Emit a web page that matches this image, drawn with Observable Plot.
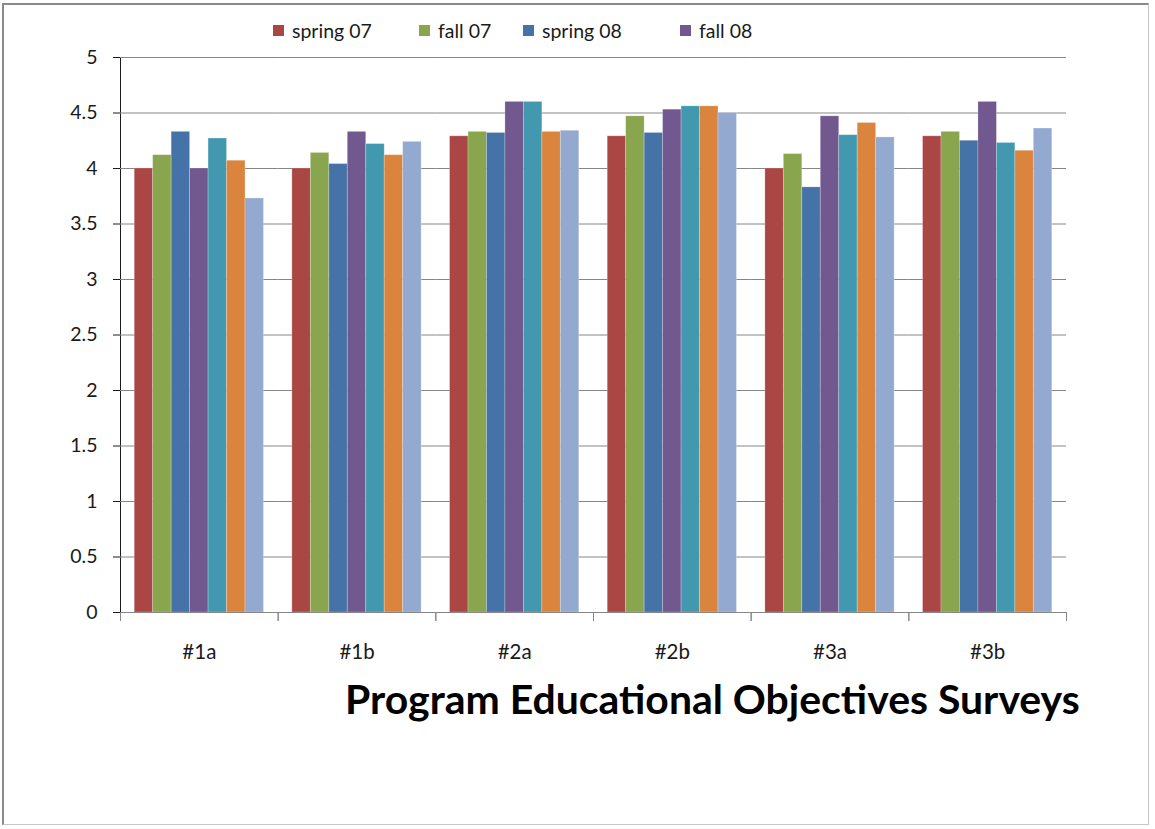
<!DOCTYPE html>
<html><head><meta charset="utf-8">
<script src="https://cdn.jsdelivr.net/npm/d3@7"></script>
<script src="https://cdn.jsdelivr.net/npm/@observablehq/plot@0.6"></script>
<style>
body{margin:0;background:#fff;}
#wrap{position:relative;width:1155px;height:829px;overflow:hidden;font-family:Lato,"Open Sans",sans-serif;background:#fff;}
#border{position:absolute;left:2px;top:3px;width:1147px;height:822px;border-left:2px solid #8a8a8a;border-top:2px solid #8a8a8a;border-right:1px solid #c8c8c8;border-bottom:1px solid #c8c8c8;box-sizing:border-box;}
#chart{position:absolute;left:0;top:0;}
#legend{position:absolute;top:19px;left:273px;height:22px;font-size:19.5px;color:#1a1a1a;white-space:nowrap;}
#legend .item{position:absolute;top:0;display:flex;align-items:center;height:22px;}
#legend .sw{width:11px;height:11px;margin-right:8px;}
#title{position:absolute;left:345px;top:679px;font-weight:bold;font-size:33px;line-height:1;white-space:nowrap;color:#000;}
#chart [aria-label="y-axis tick"]{stroke:#868686;}
#chart [aria-label="y-axis line"], #chart [aria-label="frame"]{stroke:#868686;}
</style>
</head><body>
<div id="wrap">
  <div id="border"></div>
  <div id="chart"></div>
  <div id="legend"></div>
  <div id="title"></div>
</div>
<script>
const categories = ["#1a", "#1b", "#2a", "#2b", "#3a", "#3b"];
const seriesNames = ["spring 07", "fall 07", "spring 08", "fall 08", "spring 09", "fall 09", "spring 10"];
const legendNames = ["spring 07", "fall 07", "spring 08", "fall 08"];
const spring07 = [4.00, 4.00, 4.29, 4.29, 4.00, 4.29];
const fall07   = [4.12, 4.14, 4.33, 4.47, 4.13, 4.33];
const spring08 = [4.33, 4.04, 4.32, 4.32, 3.83, 4.25];
const fall08   = [4.00, 4.33, 4.60, 4.53, 4.47, 4.60];
const spring09 = [4.27, 4.22, 4.60, 4.56, 4.30, 4.23];
const fall09   = [4.07, 4.12, 4.33, 4.56, 4.41, 4.16];
const spring10 = [3.73, 4.24, 4.34, 4.50, 4.28, 4.36];
const seriesValues = [spring07, fall07, spring08, fall08, spring09, fall09, spring10];
const colors = ["#AA4643", "#89A54E", "#4572A7", "#71588F", "#4198AF", "#DB843D", "#93A9CF"];
const yTicks = [0, 0.5, 1, 1.5, 2, 2.5, 3, 3.5, 4, 4.5, 5];
const yTickLabels = ["0", "0.5", "1", "1.5", "2", "2.5", "3", "3.5", "4", "4.5", "5"];
const titleText = "Program Educational Objectives Surveys";

const rows = [];
seriesNames.forEach((s, si) => categories.forEach((c, ci) => rows.push({cat: c, series: s, value: seriesValues[si][ci]})));

const W = 1155, H = 670, ML = 120, MR = 89, MT = 57, MB = 58;
const step = (W - ML - MR) / categories.length;

const chart = Plot.plot({
  width: W, height: H,
  marginTop: MT, marginBottom: MB, marginLeft: ML, marginRight: MR,
  style: {fontFamily: "Lato, 'Open Sans', sans-serif", fontSize: "19.5px", color: "#1a1a1a", background: "transparent", overflow: "visible"},
  fx: {domain: categories, padding: 0, round: false, label: null},
  x: {domain: seriesNames, paddingInner: 0, paddingOuter: 0.77, round: false, axis: null},
  y: {domain: [0, 5], ticks: yTicks, tickFormat: d => yTickLabels[yTicks.indexOf(d)], tickSize: 7, tickPadding: 16, line: true, label: null},
  color: {domain: seriesNames, range: colors},
  marks: [
    Plot.gridY(yTicks, {stroke: "#868686", strokeOpacity: 1}),
    Plot.barY(rows, {fx: "cat", x: "series", y: "value", fill: "series", stroke: "#ffffff", strokeOpacity: 0.3, strokeWidth: 0.8}),
    Plot.ruleY([0], {stroke: "#868686"}),
    Plot.axisFx({anchor: "bottom", tickSize: 0, tickPadding: 32, fontSize: 20.5, label: null}),
    Plot.axisFx({anchor: "bottom", tickSize: 9, text: null, dx: -step / 2, stroke: "#868686", label: null}),
    Plot.axisFx({anchor: "bottom", tickSize: 9, text: null, dx: step / 2, stroke: "#868686", label: null})
  ]
});
document.getElementById("chart").appendChild(chart);

const legendX = [0, 146, 250, 407];
const legend = document.getElementById("legend");
legendNames.forEach((n, i) => {
  const it = document.createElement("div");
  it.className = "item";
  it.style.left = legendX[i] + "px";
  const sw = document.createElement("span");
  sw.className = "sw";
  sw.style.background = colors[seriesNames.indexOf(n)];
  const t = document.createElement("span");
  t.textContent = n;
  it.appendChild(sw); it.appendChild(t);
  legend.appendChild(it);
});

const title = document.getElementById("title");
title.textContent = titleText;
const tw = title.getBoundingClientRect().width;
const targetW = 735;
title.style.fontSize = (33 * targetW / tw).toFixed(2) + "px";
</script>
</body></html>
